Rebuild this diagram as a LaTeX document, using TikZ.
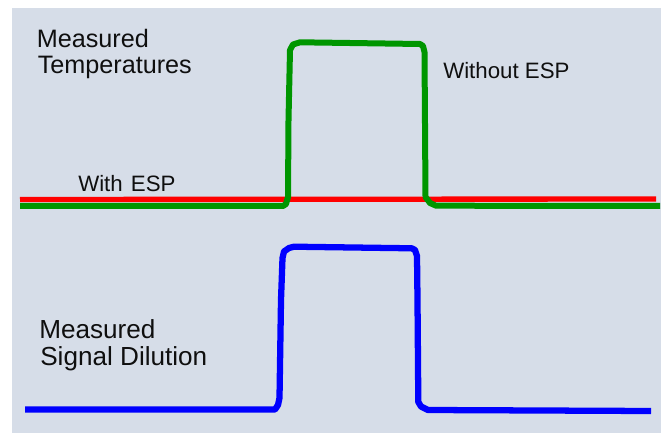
\documentclass[tikz,border=0pt]{standalone}
\usepackage{fontspec}
\setmainfont{Liberation Sans}
\definecolor{bgc}{RGB}{214,221,232}
\definecolor{gline}{RGB}{0,150,0}
\definecolor{rline}{RGB}{255,0,0}
\definecolor{bline}{RGB}{0,0,255}
\definecolor{txt}{RGB}{15,15,15}
\begin{document}
\begin{tikzpicture}[x=0.75pt,y=-0.75pt,
  toptxt/.style={anchor=base west,inner sep=0pt,text=txt,font=\fontsize{18.9pt}{20pt}\selectfont},
  bottxt/.style={anchor=base west,inner sep=0pt,text=txt,font=\fontsize{19.6pt}{21pt}\selectfont},
  smalltxt/.style={anchor=base west,inner sep=0pt,text=txt,font=\fontsize{16.7pt}{18pt}\selectfont},
  curve/.style={line join=round,line cap=butt}]
\useasboundingbox (0,0) rectangle (663,434);
\fill[bgc] (12,8) rectangle (661,433);
% red: with ESP
\draw[curve,rline,line width=4pt] (20,199.5) -- (656,199);
% green: without ESP
\draw[curve,gline,line width=4.5pt] (20,206) -- (283,206) -- (286,204) -- (288,197) -- (288.5,120) -- (290,50)
  -- (293,44.5) -- (300,42.3) -- (420,44) -- (423,46) -- (424.5,52) -- (425.5,197) -- (430,203) -- (436,205.7) -- (660,206);
% blue: signal dilution
\draw[curve,bline,line width=4.7pt] (25,409.5) -- (275,409.5) -- (278,405) -- (279.5,398) -- (281,300) -- (282.5,258)
  -- (284,251.5) -- (289,248) -- (294,246.7) -- (411.7,248.3) -- (415,250) -- (417,256) -- (417.5,300) -- (418.3,402)
  -- (421,406.5) -- (428,410) -- (651,411);
% labels
\node[toptxt] (mt1) at (36.5,47.3) {Measured};
\node[toptxt] (mt2) at (37.5,73.3) {Temperatures};
\node[smalltxt] (wo) at (443,78.3) {Without ESP};
\node[smalltxt] (wi) at (78,191.5) {With\hspace{1.5pt} ESP};
\node[bottxt] (ms1) at (39,338.3) {Measured};
\node[bottxt] (ms2) at (40,365) {Signal Dilution};
\end{tikzpicture}
\end{document}
